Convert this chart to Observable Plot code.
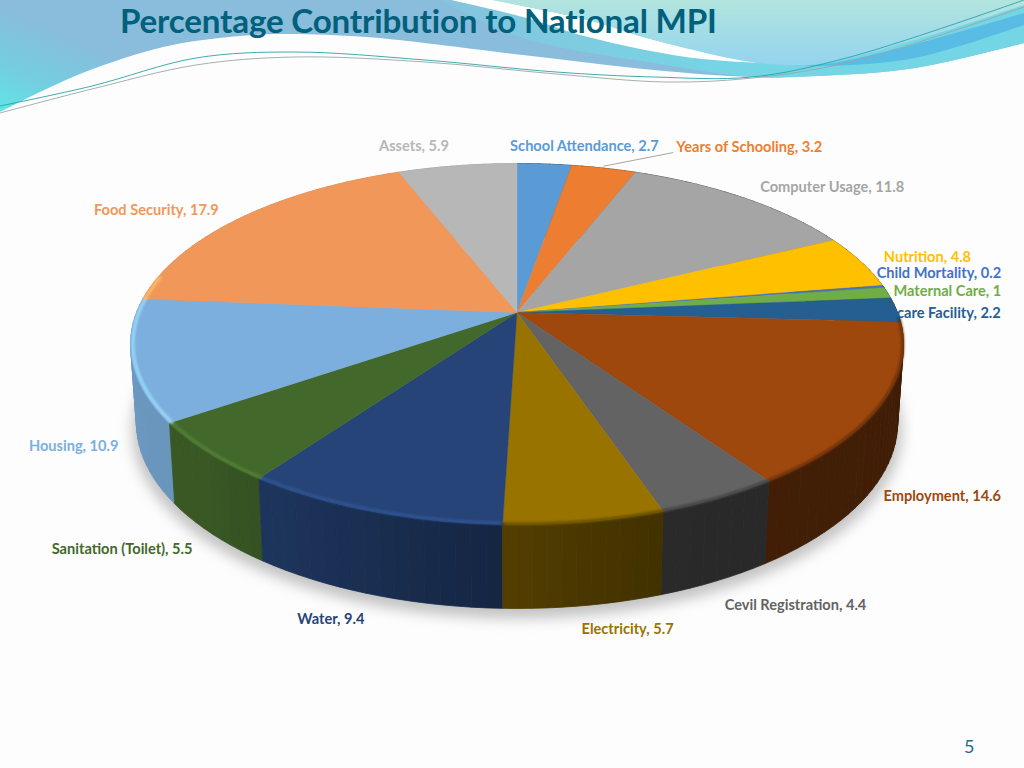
<!DOCTYPE html>
<html>
<head>
<meta charset="utf-8">
<script src="https://cdn.jsdelivr.net/npm/d3@7"></script>
<script src="https://cdn.jsdelivr.net/npm/@observablehq/plot@0.6"></script>
<style>
  html, body { margin:0; padding:0; width:1024px; height:768px; overflow:hidden; background:#fdfdfd; }
  #art, #chart, #title, #page { position:absolute; }
  #art { left:0; top:0; }
  #chart { left:0; top:0; }
  #title { left:120px; top:0px; font:bold 33.2px Lato, sans-serif; color:#01607b; white-space:nowrap; letter-spacing:-0.2px; line-height:40px; }
  #page { left:964px; top:735px; font:18px Lato, sans-serif; color:#1d6f8c; }
</style>
</head>
<body>
<svg id="art" width="1024" height="768"></svg>
<div id="chart"></div>
<div id="title">Percentage Contribution to National MPI</div>
<div id="page">5</div>
<script>
// ---- chart data ----
const categories = ["School Attendance","Years of Schooling","Computer Usage","Nutrition","Child Mortality","Maternal Care","Health care Facility","Employment","Cevil Registration","Electricity","Water","Sanitation (Toilet)","Housing","Food Security","Assets"];
const values = [2.7,3.2,11.8,4.8,0.2,1,2.2,14.6,4.4,5.7,9.4,5.5,10.9,17.9,5.9];
const colors = ["#5B9BD5","#ED7D31","#A5A5A5","#FFC000","#4472C4","#70AD47","#255E91","#9E480E","#636363","#997300","#264478","#43682B","#7CAFDD","#F1975A","#B7B7B7"];

// ---- layout: nudge of each label away from its slice's rim point ----
const labelNudgeX = [40,145.5,88,66.5,55.7,59.9,29,62.3,76.6,43,-40,-85.8,-58.4,-84.2,-43.3];
const labelNudgeY = [-18,-20.6,-10.6,-4,-13.3,-1.2,3.2,90,107.4,107.6,108.1,97.3,85.7,-8,-19];

// perspective view of the disc
const CX = 516.5, CY = 312, RX = 380.5, RY = 175, K = 0.175;
const DROP = 77.5, SX = 0.985, SY = 1.03;
const rad = d => d * Math.PI / 180;
function topAt(theta, r = 1) {
  const u = r * Math.sin(rad(theta)), v = r * Math.cos(rad(theta)), w = 1 + K * v;
  return [CX + RX * u / w, CY - RY * v / w];
}
function botAt(theta, r = 1) {
  const [x, y] = topAt(theta, r);
  return [CX + (x - CX) * SX, CY + DROP + (y - CY) * SY];
}

// slices from the values
const total = d3.sum(values);
let acc = 0;
const slices = values.map((v, i) => {
  const a0 = acc / total * 360; acc += v; const a1 = acc / total * 360;
  return {i, name: categories[i], value: v, color: colors[i], a0, a1, mid: (a0 + a1) / 2};
});
function arcAngles(a0, a1, step) {
  const n = Math.max(2, Math.ceil((a1 - a0) / step));
  return d3.range(n + 1).map(k => a0 + (a1 - a0) * k / n);
}

const topPts = slices.flatMap(s => [
  {id: s.i, color: s.color, p: [CX, CY]},
  ...arcAngles(s.a0, s.a1, 1).map(t => ({id: s.i, color: s.color, p: topAt(t)})),
  {id: s.i, color: s.color, p: [CX, CY]}
]);

// wall shading by angle
const wallShade = d3.scaleLinear().domain([90,160,172,200,225,256,290]).range([0.40,0.42,0.48,0.68,0.84,0.87,0.87]).clamp(true);
function mult(c, f) { const q = d3.rgb(c); return d3.rgb(q.r*f, q.g*f, q.b*f).formatHex(); }
let wallSegs = [];
slices.forEach(s => {
  const as = arcAngles(s.a0, s.a1, 2);
  for (let k = 0; k + 1 < as.length; k++) wallSegs.push({a: as[k], b: as[k+1], color: mult(s.color, wallShade((as[k]+as[k+1])/2))});
});
wallSegs.sort((m, n) => Math.cos(rad(n.a)) - Math.cos(rad(m.a)));
const wallPts = wallSegs.flatMap((g, id) => {
  const q = [topAt(g.a), topAt(g.b), botAt(g.b), botAt(g.a), topAt(g.a)];
  return q.map(p => ({id, color: g.color, p}));
});

const shadowPts = d3.range(0, 361, 2).map(t => { const [x, y] = botAt(t, 1.01); return {p: [x, y + 7]}; });

// rim shading along the front edge
function rimPts(lo, hi, r, f) {
  return slices.flatMap(s => {
    const a0 = Math.max(s.a0, lo), a1 = Math.min(s.a1, hi);
    if (a1 <= a0) return [];
    return arcAngles(a0, a1, 1).map(t => ({id: s.i, color: f(s.color), p: topAt(t, r)}));
  });
}
const rimLight = rimPts(182, 282, 0.994, c => d3.rgb(c).brighter(0.7).formatHex());
const rimDark = rimPts(92, 182, 0.998, c => mult(c, 0.7));

const labels = slices.map(s => {
  const [x, y] = topAt(s.mid);
  return {name: s.name, color: s.color, text: `${s.name}, ${s.value}`, x: x + labelNudgeX[s.i], y: y + labelNudgeY[s.i], rx: x, ry: y};
});
const yos = labels[1];
const leader = [{x1: yos.rx, y1: yos.ry - 2, x2: yos.x - 76, y2: yos.y + 5}];
const hidden = labels.filter(d => d.name.startsWith("Health"));
const shown = labels.filter(d => !d.name.startsWith("Health"));

const X = d => d.p[0], Y = d => d.p[1];
const txt = {x: "x", y: "y", text: "text", fill: "color", fontSize: 14.6, fontWeight: "bold", fontFamily: "Lato, sans-serif"};
const chart = Plot.plot({
  width: 1024, height: 768, margin: 0,
  style: {background: "transparent"},
  x: {domain: [0, 1024], range: [0, 1024], axis: null},
  y: {domain: [0, 768], range: [0, 768], axis: null},
  color: {type: "identity"},
  marks: [
    Plot.line(shadowPts, {x: X, y: Y, fill: "#777777", stroke: "none", fillOpacity: 0.45, imageFilter: "blur(7px)"}),
    Plot.line(wallPts, {x: X, y: Y, z: "id", fill: "color", stroke: "color", strokeWidth: 0.8}),
    Plot.text(hidden, txt),
    Plot.line(topPts, {x: X, y: Y, z: "id", fill: "color", stroke: "color", strokeWidth: 0.4}),
    Plot.line(rimDark, {x: X, y: Y, z: "id", stroke: "color", strokeWidth: 3, imageFilter: "blur(1.2px)"}),
    Plot.line(rimLight, {x: X, y: Y, z: "id", stroke: "color", strokeWidth: 3.5, strokeOpacity: 0.75, imageFilter: "blur(1.2px)"}),
    Plot.link(leader, {x1: "x1", y1: "y1", x2: "x2", y2: "y2", stroke: "#a6a6a6", strokeWidth: 1}),
    Plot.text(shown, txt)
  ]
});
document.getElementById("chart").appendChild(chart);

// ---- slide artwork behind the chart ----
const art = d3.select("#art");
const defs = art.append("defs");
function grad(id, x1, y1, x2, y2, stops) {
  const g = defs.append("linearGradient").attr("id", id).attr("gradientUnits", "userSpaceOnUse")
    .attr("x1", x1).attr("y1", y1).attr("x2", x2).attr("y2", y2);
  stops.forEach(([o, c]) => g.append("stop").attr("offset", o).attr("stop-color", c));
}
grad("gMain", 0, 113, 40, 20, [[0, "#5fe6e6"], [0.45, "#74cde0"], [1, "#8abcdb"]]);
grad("gLow", 420, 20, 750, 75, [[0, "#86c3dd"], [1, "#74d6e4"]]);
grad("gRight", 0, 0, 0, 65, [[0, "#b3e4de"], [1, "#93d4ef"]]);
const smooth = d3.line().curve(d3.curveCatmullRom.alpha(0.5));
const lowEdge = [[0,112],[40,92],[85,72],[163,47],[229,37],[281,34],[366,37],[523,55],[654,70],[752,77],[817,76],[915,68],[1024,43]];
art.append("path").attr("d", smooth(lowEdge) + "L1024,0L0,0Z").attr("fill", "url(#gMain)");
art.append("path").attr("d", smooth([[440,0],[523,38],[654,63],[752,77],[817,76],[915,68],[1024,43]]) + "L1024,0Z").attr("fill", "url(#gLow)");
art.append("path").attr("d", smooth([[451,0],[523,17],[588,37],[686,57],[758,63]]) + smooth([[758,63],[654,40],[588,20],[493,0]]).replace("M","L") + "Z").attr("fill", "#ffffff");
art.append("path").attr("d", smooth([[493,0],[588,20],[654,40],[758,63],[817,64],[915,40],[1024,5]]) + "L1024,0Z").attr("fill", "url(#gRight)");
art.append("path").attr("d", smooth([[758,63],[817,65],[900,48],[1024,13]]) + "L1024,25" + smooth([[1024,25],[915,58],[817,66],[758,63]]).replace("M","L") + "Z").attr("fill", "#58bce4");
art.append("path").attr("d", smooth([[0,106],[92,86],[196,58],[294,52],[425,60],[556,72],[654,77],[752,77],[850,57],[1024,0]])).attr("fill", "none").attr("stroke", "#2aa3a8").attr("stroke-width", 0.9);
art.append("path").attr("d", smooth([[0,113],[92,89],[196,65],[294,57],[425,62],[556,74],[667,82],[752,78],[850,62],[1024,7]])).attr("fill", "none").attr("stroke", "#9aa6aa").attr("stroke-width", 0.9);
</script>
</body>
</html>
